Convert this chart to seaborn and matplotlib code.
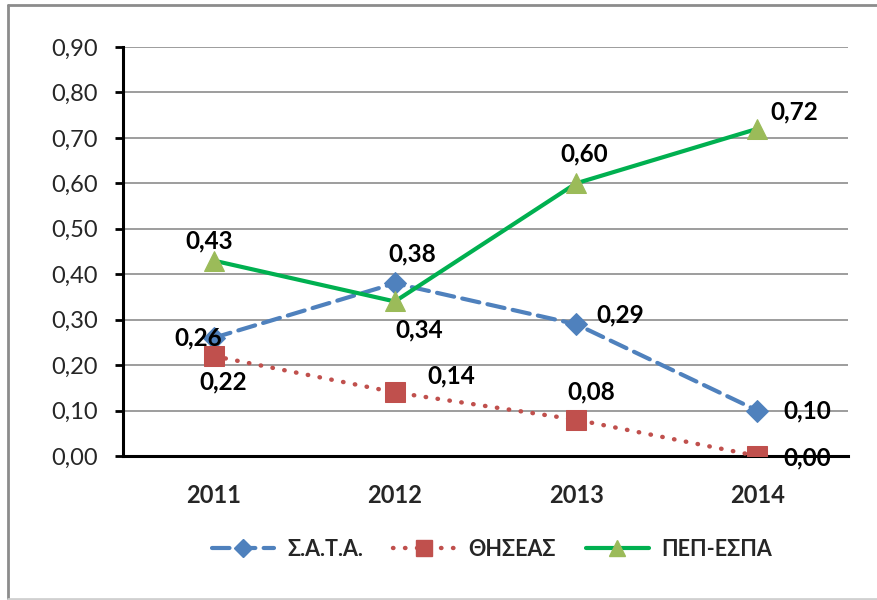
import matplotlib
matplotlib.use("Agg")
import matplotlib.pyplot as plt
from matplotlib.lines import Line2D
import seaborn as sns
import pandas as pd

years = ["2011", "2012", "2013", "2014"]
series_names = ["Σ.Α.Τ.Α.", "ΘΗΣΕΑΣ", "ΠΕΠ-ΕΣΠΑ"]
sata = [0.26, 0.38, 0.29, 0.10]
thiseas = [0.22, 0.14, 0.08, 0.00]
pep_espa = [0.43, 0.34, 0.60, 0.72]
y_ticks = [0.0, 0.1, 0.2, 0.3, 0.4, 0.5, 0.6, 0.7, 0.8, 0.9]

sns.set_theme(style="white")
plt.rcParams["font.family"] = ["Lato", "DejaVu Sans"]

fig = plt.figure(figsize=(8.77, 6.0), dpi=100)
W, H = 877, 600
ax = fig.add_axes([123 / W, 1 - 456 / H, (848 - 123) / W, (456 - 47) / H])

xs = list(range(len(years)))
styles = [
    dict(color="#4F81BD", linestyle=(0, (4.2, 2.0)), marker="D", ms=11, mfc="#4F81BD", mec="#4F81BD"),
    dict(color="#C0504D", linestyle=(0, (0.1, 2.6)), marker="s", ms=14, mfc="#C0504D", mec="#C0504D"),
    dict(color="#00B050", linestyle="-", marker="^", ms=15, mfc="#9BBB59", mec="#9BBB59"),
]
lws = [3.0, 3.2, 3.0]
all_vals = [sata, thiseas, pep_espa]

# label offsets in pixels (dx, dy) with dy positive downward
offsets = [
    [(-15, 0), (17, -29), (44, -9), (50, 0)],
    [(10, 26), (56, -16), (15, -28), (50, 2)],
    [(-4, -20), (24, 28), (8, -29), (37, -17)],
]

for i, (name, vals) in enumerate(zip(series_names, all_vals)):
    df = pd.DataFrame({"x": xs, "y": vals})
    st = styles[i]
    sns.lineplot(data=df, x="x", y="y", ax=ax, color=st["color"], lw=lws[i],
                 linestyle=st["linestyle"], marker=st["marker"], markersize=st["ms"],
                 markerfacecolor=st["mfc"], markeredgecolor=st["mec"],
                 dash_capstyle="round", solid_capstyle="round", zorder=3 + i, legend=False)

for i, vals in enumerate(all_vals):
    for j, v in enumerate(vals):
        dx, dy = offsets[i][j]
        ax.annotate(f"{v:.2f}".replace(".", ","), (xs[j], v),
                    xytext=(dx * 0.72, -dy * 0.72), textcoords="offset points",
                    ha="center", va="center", fontsize=17.5, fontweight="bold",
                    color="black", zorder=10)

ax.set_xlim(-0.5, 3.5)
ax.set_ylim(0, 0.9)
ax.set_yticks(y_ticks)
ax.set_yticklabels([f"{t:.2f}".replace(".", ",") for t in y_ticks], fontsize=17)
ax.set_xticks(xs)
ax.set_xticklabels(years, fontsize=17, fontweight="bold")
ax.set_xticks([-0.5, 0.5, 1.5, 2.5, 3.5], minor=True)
ax.tick_params(axis="x", which="major", length=0, pad=20)
ax.tick_params(axis="x", which="minor", length=6, width=2, direction="out", color="black")
ax.tick_params(axis="y", length=6, width=2, direction="out", color="black", pad=12, left=True)
ax.set_xlabel("")
ax.set_ylabel("")
ax.grid(axis="y", color="#8C8C8C", lw=1.2)
ax.set_axisbelow(True)
for s in ["top", "right"]:
    ax.spines[s].set_visible(False)
for s in ["left", "bottom"]:
    ax.spines[s].set_color("black")
    ax.spines[s].set_linewidth(2.2)
    ax.spines[s].set_zorder(2)

handles = []
for i, name in enumerate(series_names):
    st = styles[i]
    handles.append(Line2D([], [], color=st["color"], lw=lws[i], linestyle=st["linestyle"],
                          marker=st["marker"], markersize=st["ms"] * 0.8,
                          markerfacecolor=st["mfc"], markeredgecolor=st["mec"],
                          dash_capstyle="round", solid_capstyle="round"))
leg = fig.legend(handles, series_names, loc="center", bbox_to_anchor=(492 / W, 1 - 549 / H),
                 ncol=3, frameon=False, handlelength=2.9, columnspacing=1.4, handletextpad=0.6,
                 prop={"size": 15.5, "weight": "bold"})

# figure border (Excel chart frame)
fig.add_artist(Line2D([8 / W, 8 / W], [0, 1 - 5 / H], transform=fig.transFigure, color="#8C8C8C", lw=2))
fig.add_artist(Line2D([8 / W, 1], [1 - 5 / H, 1 - 5 / H], transform=fig.transFigure, color="#8C8C8C", lw=2))
fig.add_artist(Line2D([8 / W, 1], [1 / H, 1 / H], transform=fig.transFigure, color="#D0D0D0", lw=2))

fig.savefig("out.png", dpi=100)
